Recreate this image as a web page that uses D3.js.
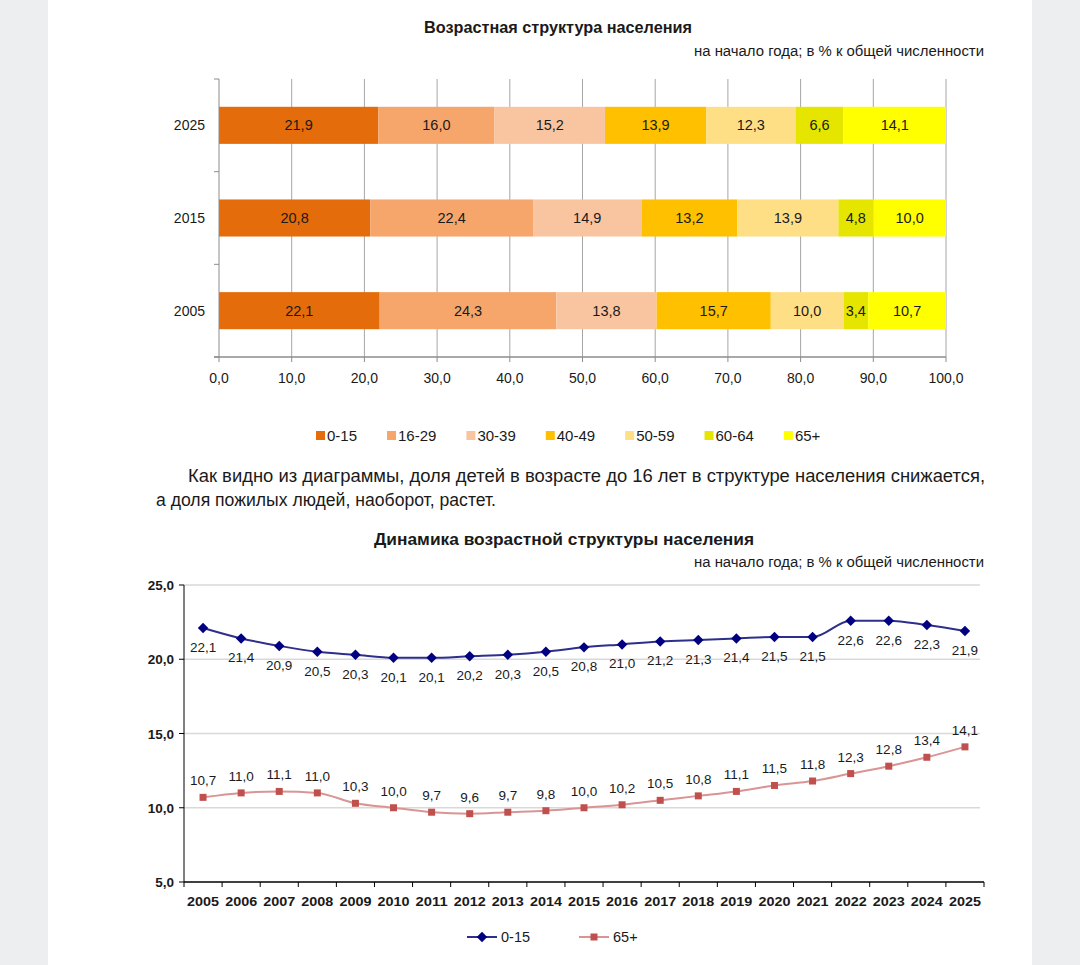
<!DOCTYPE html>
<html><head><meta charset="utf-8">
<script src="https://cdn.jsdelivr.net/npm/d3@7"></script>
<style>
html,body{margin:0;padding:0;background:#edeef0;}
svg{display:block;}
text{font-family:"Liberation Sans",Arial,sans-serif;fill:#1a1a1a;}
</style></head>
<body>
<svg id="c" width="1080" height="965"></svg>
<script>
// ---------- DATA ----------
const barYears = ["2025", "2015", "2005"];
const ageGroups = ["0-15", "16-29", "30-39", "40-49", "50-59", "60-64", "65+"];
const share2025 = [21.9, 16.0, 15.2, 13.9, 12.3, 6.6, 14.1];
const share2015 = [20.8, 22.4, 14.9, 13.2, 13.9, 4.8, 10.0];
const share2005 = [22.1, 24.3, 13.8, 15.7, 10.0, 3.4, 10.7];
const barTicks = [0, 10, 20, 30, 40, 50, 60, 70, 80, 90, 100];

const lineYears = ["2005","2006","2007","2008","2009","2010","2011","2012","2013","2014","2015",
                   "2016","2017","2018","2019","2020","2021","2022","2023","2024","2025"];
const kids = [22.1,21.4,20.9,20.5,20.3,20.1,20.1,20.2,20.3,20.5,20.8,21.0,21.2,21.3,21.4,21.5,21.5,22.6,22.6,22.3,21.9];
const elderly = [10.7,11.0,11.1,11.0,10.3,10.0,9.7,9.6,9.7,9.8,10.0,10.2,10.5,10.8,11.1,11.5,11.8,12.3,12.8,13.4,14.1];
const lineTicks = [5, 10, 15, 20, 25];

const ageColors = ["#e46c0a", "#f6a66b", "#f9c5a0", "#ffc000", "#ffdf85", "#e5e500", "#ffff00"];

// ---------- SETUP ----------
const loc = d3.formatLocale({decimal: ",", thousands: " ", grouping: [3], currency: ["", ""]});
const f1 = loc.format(".1f");
const svg = d3.select("#c");
svg.append("rect").attr("width", 1080).attr("height", 965).attr("fill", "#edeef0");
svg.append("rect").attr("x", 48).attr("width", 984).attr("height", 965).attr("fill", "#fff");

function txt(x, y, s, size, opts = {}) {
  const t = svg.append("text").attr("x", x).attr("y", y).attr("font-size", size)
    .attr("text-anchor", opts.anchor || "start").text(s);
  if (opts.bold) t.attr("font-weight", "bold");
  if (opts.len) t.attr("textLength", opts.len).attr("lengthAdjust", "spacingAndGlyphs");
  if (opts.fill) t.attr("fill", opts.fill);
  return t;
}

// ---------- BAR CHART ----------
txt(424, 33, "Возрастная структура населения", 16, {bold: true, len: 268});
txt(694, 56, "на начало года; в % к общей численности", 14, {len: 290});

const xB = d3.scaleLinear().domain([0, 100]).range([219, 946]);
const yB = d3.scaleBand().domain(barYears).range([79, 357]).paddingInner(0.6).paddingOuter(0.3);

const rows = [share2025, share2015, share2005].map((v, i) => {
  const r = {year: barYears[i]};
  ageGroups.forEach((g, j) => r[g] = v[j]);
  return r;
});
const stacked = d3.stack().keys(ageGroups)(rows);

// gridlines
svg.append("g").selectAll("line").data(barTicks.slice(1)).join("line")
  .attr("x1", d => xB(d)).attr("x2", d => xB(d)).attr("y1", 79).attr("y2", 357)
  .attr("stroke", "#a6a6a6").attr("stroke-width", 1);

// bars
const gB = svg.append("g");
stacked.forEach((layer, k) => {
  gB.append("g").selectAll("rect").data(layer).join("rect")
    .attr("x", d => xB(d[0])).attr("width", d => xB(d[1]) - xB(d[0]))
    .attr("y", d => yB(d.data.year)).attr("height", yB.bandwidth())
    .attr("fill", ageColors[k]);
  gB.append("g").selectAll("text").data(layer).join("text")
    .attr("x", d => (xB(d[0]) + xB(d[1])) / 2)
    .attr("y", d => yB(d.data.year) + yB.bandwidth() / 2 + 5)
    .attr("text-anchor", "middle").attr("font-size", 14.5)
    .text(d => f1(d[1] - d[0]));
});

// axes
const axB = svg.append("g").attr("stroke", "#8c8c8c").attr("stroke-width", 1);
axB.append("line").attr("x1", 219).attr("x2", 219).attr("y1", 79).attr("y2", 357);
axB.append("line").attr("x1", 214).attr("x2", 946).attr("y1", 357).attr("y2", 357).attr("stroke-width", 1.5);
const bandEdges = [79].concat(barYears.map(y => yB(y) + yB.bandwidth() + yB.step() * yB.paddingInner() / 2));
bandEdges[bandEdges.length - 1] = 357;
axB.selectAll(".yt").data(bandEdges).join("line")
  .attr("x1", 214).attr("x2", 219).attr("y1", d => d).attr("y2", d => d);
axB.selectAll(".xt").data(barTicks).join("line")
  .attr("x1", d => xB(d)).attr("x2", d => xB(d)).attr("y1", 357).attr("y2", 362);

svg.append("g").selectAll("text").data(barTicks).join("text")
  .attr("x", d => xB(d)).attr("y", 383).attr("text-anchor", "middle").attr("font-size", 14)
  .text(d => f1(d));
svg.append("g").selectAll("text").data(barYears).join("text")
  .attr("x", 205).attr("y", d => yB(d) + yB.bandwidth() / 2 + 5).attr("text-anchor", "end")
  .attr("font-size", 14).text(d => d);

// bar legend
{
  const g = svg.append("g");
  let x = 316;
  ageGroups.forEach((a, i) => {
    g.append("rect").attr("x", x).attr("y", 431).attr("width", 9).attr("height", 9).attr("fill", ageColors[i]);
    const t = g.append("text").attr("x", x + 11).attr("y", 441).attr("font-size", 15).text(a);
    x += 11 + t.node().getComputedTextLength() + 30;
  });
}

// ---------- PARAGRAPH ----------
txt(188, 482, "Как видно из диаграммы, доля детей в возрасте до 16 лет в структуре населения снижается,", 17.5, {len: 797, fill: "#333"});
txt(156, 506, "а доля пожилых людей, наоборот, растет.", 17.5, {len: 340, fill: "#333"});

// ---------- LINE CHART ----------
txt(374, 545, "Динамика возрастной структуры населения", 16, {bold: true, len: 380});
txt(694, 567, "на начало года; в % к общей численности", 14, {len: 290});

const xL = d3.scaleBand().domain(lineYears).range([184, 984]);
const cx = d => xL(d) + xL.bandwidth() / 2;
const yL = d3.scaleLinear().domain([5, 25]).range([882, 585]);

svg.append("g").selectAll("line").data(lineTicks.slice(1)).join("line")
  .attr("x1", 184).attr("x2", 980).attr("y1", d => yL(d)).attr("y2", d => yL(d))
  .attr("stroke", "#d9d9d9").attr("stroke-width", 1.5);

const axL = svg.append("g").attr("stroke", "#000").attr("stroke-width", 1);
axL.append("line").attr("x1", 184).attr("x2", 184).attr("y1", 585).attr("y2", 882);
axL.append("line").attr("x1", 184).attr("x2", 984).attr("y1", 882).attr("y2", 882).attr("stroke-width", 1.5);
axL.selectAll(".yt").data(lineTicks).join("line")
  .attr("x1", 179).attr("x2", 184).attr("y1", d => yL(d)).attr("y2", d => yL(d));
axL.selectAll(".xt").data(lineYears.map(y => xL(y)).concat([984])).join("line")
  .attr("x1", d => d).attr("x2", d => d).attr("y1", 882).attr("y2", 887);

svg.append("g").selectAll("text").data(lineTicks).join("text")
  .attr("x", 174).attr("y", d => yL(d) + 5).attr("text-anchor", "end").attr("font-size", 13.5)
  .attr("font-weight", "bold").attr("fill", "#333").text(d => f1(d));
svg.append("g").selectAll("text").data(lineYears).join("text")
  .attr("x", d => cx(d)).attr("y", 906).attr("text-anchor", "middle").attr("font-size", 13)
  .attr("font-weight", "bold").attr("fill", "#333").attr("textLength", 32).attr("lengthAdjust", "spacingAndGlyphs")
  .text(d => d);

const line = d3.line().x(d => cx(d.year)).y(d => yL(d.v)).curve(d3.curveMonotoneX);
const kidsPts = lineYears.map((y, i) => ({year: y, v: kids[i]}));
const oldPts = lineYears.map((y, i) => ({year: y, v: elderly[i]}));

svg.append("path").datum(oldPts).attr("d", line).attr("fill", "none")
  .attr("stroke", "#d99594").attr("stroke-width", 2);
svg.append("path").datum(kidsPts).attr("d", line).attr("fill", "none")
  .attr("stroke", "#2e2e8c").attr("stroke-width", 2);

const diamond = d3.symbol().type(d3.symbolDiamond2).size(70);
svg.append("g").selectAll("path").data(kidsPts).join("path")
  .attr("d", diamond).attr("transform", d => `translate(${cx(d.year)},${yL(d.v)})`).attr("fill", "#000080");
svg.append("g").selectAll("rect").data(oldPts).join("rect")
  .attr("x", d => cx(d.year) - 3.5).attr("y", d => yL(d.v) - 3.5).attr("width", 7).attr("height", 7)
  .attr("fill", "#c0504d");

svg.append("g").selectAll("text").data(kidsPts).join("text")
  .attr("x", d => cx(d.year)).attr("y", d => yL(d.v) + 24).attr("text-anchor", "middle")
  .attr("font-size", 13.5).text(d => f1(d.v));
svg.append("g").selectAll("text").data(oldPts).join("text")
  .attr("x", d => cx(d.year)).attr("y", d => yL(d.v) - 12).attr("text-anchor", "middle")
  .attr("font-size", 13.5).text(d => f1(d.v));

// line legend
{
  const g = svg.append("g");
  g.append("line").attr("x1", 467).attr("x2", 497).attr("y1", 937).attr("y2", 937).attr("stroke", "#2e2e8c").attr("stroke-width", 2);
  g.append("path").attr("d", diamond).attr("transform", "translate(482,937)").attr("fill", "#000080");
  g.append("text").attr("x", 501).attr("y", 942).attr("font-size", 14.5).text("0-15");
  g.append("line").attr("x1", 579).attr("x2", 609).attr("y1", 937).attr("y2", 937).attr("stroke", "#d99594").attr("stroke-width", 2);
  g.append("rect").attr("x", 590.5).attr("y", 933.5).attr("width", 7).attr("height", 7).attr("fill", "#c0504d");
  g.append("text").attr("x", 613).attr("y", 942).attr("font-size", 14.5).text("65+");
}
</script>
</body></html>
